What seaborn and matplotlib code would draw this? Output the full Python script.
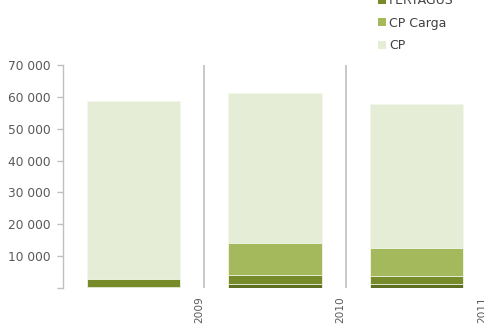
import matplotlib
matplotlib.use("Agg")
import matplotlib.pyplot as plt
import seaborn as sns
import numpy as np
from matplotlib.patches import Patch

years = ["2009", "2010", "2011"]
series_names = ["TAKARGO", "FERTAGUS", "CP Carga", "CP"]
takargo = [400, 1250, 1150]
fertagus = [2400, 2850, 2600]
cp_carga = [0, 9900, 8650]
cp = [55800, 47100, 45500]
y_ticks = [0, 10000, 20000, 30000, 40000, 50000, 60000, 70000]

colors = ["#5E6F22", "#778B2B", "#A4B95B", "#E6EDD6"]

sns.set_theme(style="white")
plt.rcParams["font.family"] = ["DejaVu Sans"]

fig = plt.figure(figsize=(4.84, 3.25), dpi=100)
ax = fig.add_axes([63 / 484, 37 / 325, 424 / 484, 223 / 325])

layers = [takargo, fertagus, cp_carga, cp]
cum = np.cumsum(np.array(layers), axis=0)
# draw from top layer down so lower layers overlay
for i in range(len(layers) - 1, -1, -1):
    sns.barplot(x=years, y=cum[i], color=colors[i], width=0.66, ax=ax,
                saturation=1, edgecolor="#F4F7EC", linewidth=0.6)

ax.set_xlim(-0.5, 2.5)
ax.set_ylim(0, 70000)
for xv in [0.5, 1.5, 2.5]:
    ax.axvline(xv, ymin=0, ymax=1, color="#C4C4C4", lw=1.3)

ax.set_yticks(y_ticks)
ax.set_yticklabels(["" if v == 0 else f"{v:,}".replace(",", " ") for v in y_ticks],
                   color="#595959", fontsize=8.8)
ax.set_xticks([0.5, 1.5, 2.5])
ax.set_xticklabels(years, rotation=90, ha="right", va="top", color="#595959", fontsize=7.6)
ax.tick_params(axis="x", length=0, pad=6)
ax.tick_params(axis="y", length=4, color="#BFBFBF", width=1, pad=5, left=True)
ax.set_xlabel("")
ax.set_ylabel("")
for s in ["top", "right", "bottom"]:
    ax.spines[s].set_visible(False)
ax.spines["left"].set_color("#BFBFBF")
ax.spines["left"].set_linewidth(1)

handles = [Patch(facecolor=c, edgecolor="none") for c in colors]
leg = fig.legend(handles, series_names, loc="lower left",
                 bbox_to_anchor=(378 / 484, 1 - 52 / 325),
                 frameon=False, fontsize=9, handlelength=0.6, handleheight=0.6,
                 handletextpad=0.3, labelspacing=0.75, borderpad=0, borderaxespad=0)
for t in leg.get_texts():
    t.set_color("#404040")

fig.savefig("out.png", dpi=100)
